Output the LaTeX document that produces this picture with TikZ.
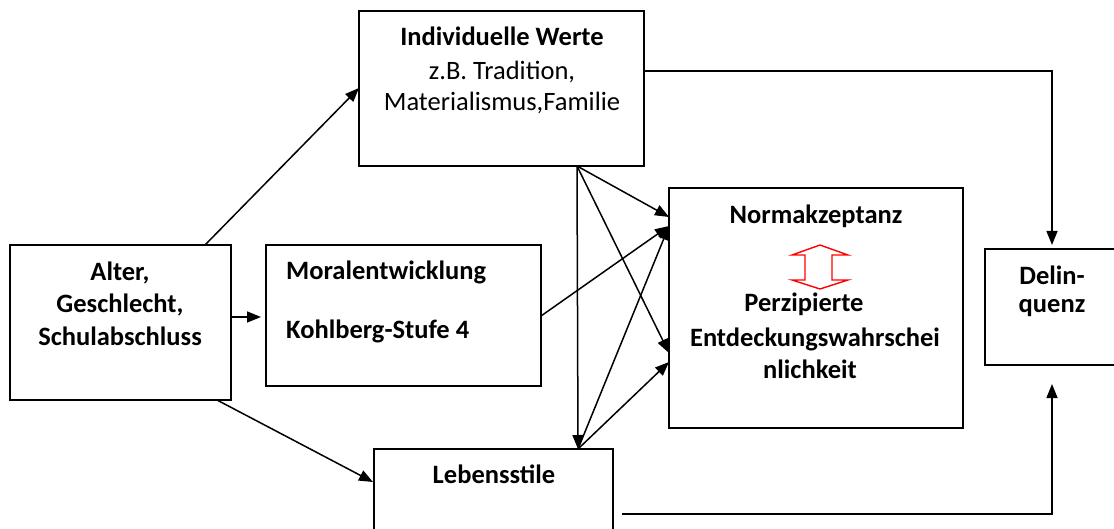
\documentclass[tikz,border=0pt]{standalone}
\usepackage{fontspec}
\setmainfont{Carlito}
\usetikzlibrary{arrows.meta,calc}
\begin{document}
\begin{tikzpicture}[x=1pt,y=-1pt,
  box/.style={draw, line width=1.8pt, inner sep=0pt, outer sep=0pt},
  bt/.style={font=\fontsize{26.5}{31}\selectfont\bfseries, anchor=base, inner sep=0pt},
  rt/.style={font=\fontsize{26.5}{31}\selectfont, anchor=base, inner sep=0pt},
  arr/.style={line width=1.5pt, -{Triangle[length=14pt,width=11pt]}},
  ln/.style={line width=1.5pt}]
\useasboundingbox (0,0) rectangle (1114,529);
\clip (0,0) rectangle (1114,529);
% boxes
\node[box, minimum width=221pt, minimum height=155pt] (alter) at (120.5,322.5) {};
\node[box, minimum width=275pt, minimum height=141pt] (moral) at (403.5,315.5) {};
\node[box, minimum width=285pt, minimum height=155pt] (ind) at (501.5,88.5) {};
\node[box, minimum width=294pt, minimum height=240pt] (norm) at (816,308) {};
\node[box, minimum width=140pt, minimum height=116pt] (delin) at (1055,307) {};
\node[box, minimum width=239pt, minimum height=111pt] (leb) at (493.5,504.5) {};
% texts
\node[bt] (t1) at (120,281) {Alter,};
\node[bt] (t2) at (120,313) {Geschlecht,};
\node[bt] (t3) at (120,345) {Schulabschluss};
\node[bt] (t4) at (502,46) {Individuelle Werte};
\node[rt] (t5) at (502,80) {z.B. Tradition,};
\node[rt] (t6) at (502,111) {Materialismus,Familie};
\node[bt, anchor=base west] (t7) at (286,280) {Moralentwicklung};
\node[bt, anchor=base west] (t8) at (286,338) {Kohlberg-Stufe 4};
\node[bt] (t9) at (816,224) {Normakzeptanz};
\node[bt] (t10) at (804,312) {Perzipierte};
\node[bt] (t11) at (815,346) {Entdeckungswahrschei};
\node[bt] (t12) at (810,378) {nlichkeit};
\node[bt] (t13) at (1052,285) {Delin-};
\node[bt] (t14) at (1052,313) {quenz};
\node[bt] (t15) at (494,483) {Lebensstile};
% red double arrow
\draw[red, line width=1.4pt, line join=miter]
  (820,245) -- (848,255) -- (832,255) -- (832,280) -- (848,280) -- (820,289)
  -- (792,280) -- (805,280) -- (805,255) -- (792,255) -- cycle;
% connectors
\coordinate (ib) at ($(ind.south west)+(218,0)$);
\coordinate (lt) at ($(leb.north west)+(204,0)$);
\draw[arr] ($(alter.north west)+(195,0)$) -- ($(ind.north west)+(0,77)$);
\draw[arr] ($(alter.north east)+(0,72)$) -- ($(moral.north west)+(-5,72)$);
\draw[arr] ($(alter.south west)+(207,0)$) -- ($(leb.north west)+(-1,33)$);
\draw[arr] ($(ind.north east)+(0,60)$) -| ($(delin.north west)+(67,-4)$);
\draw[arr] ($(leb.north east)+(9,65)$) -| ($(delin.south west)+(67,19)$);
\draw[arr] (ib) -- (lt);
\draw[arr] (ib) -- ($(norm.north west)+(0,29)$);
\draw[arr] (ib) -- ($(norm.north west)+(0,165)$);
\draw[arr] ($(moral.north east)+(0,71)$) -- ($(norm.north west)+(0,38)$);
\draw[arr] (lt) -- ($(norm.north west)+(0,38)$);
\draw[arr] (lt) -- ($(norm.north west)+(0,174)$);
\end{tikzpicture}
\end{document}
